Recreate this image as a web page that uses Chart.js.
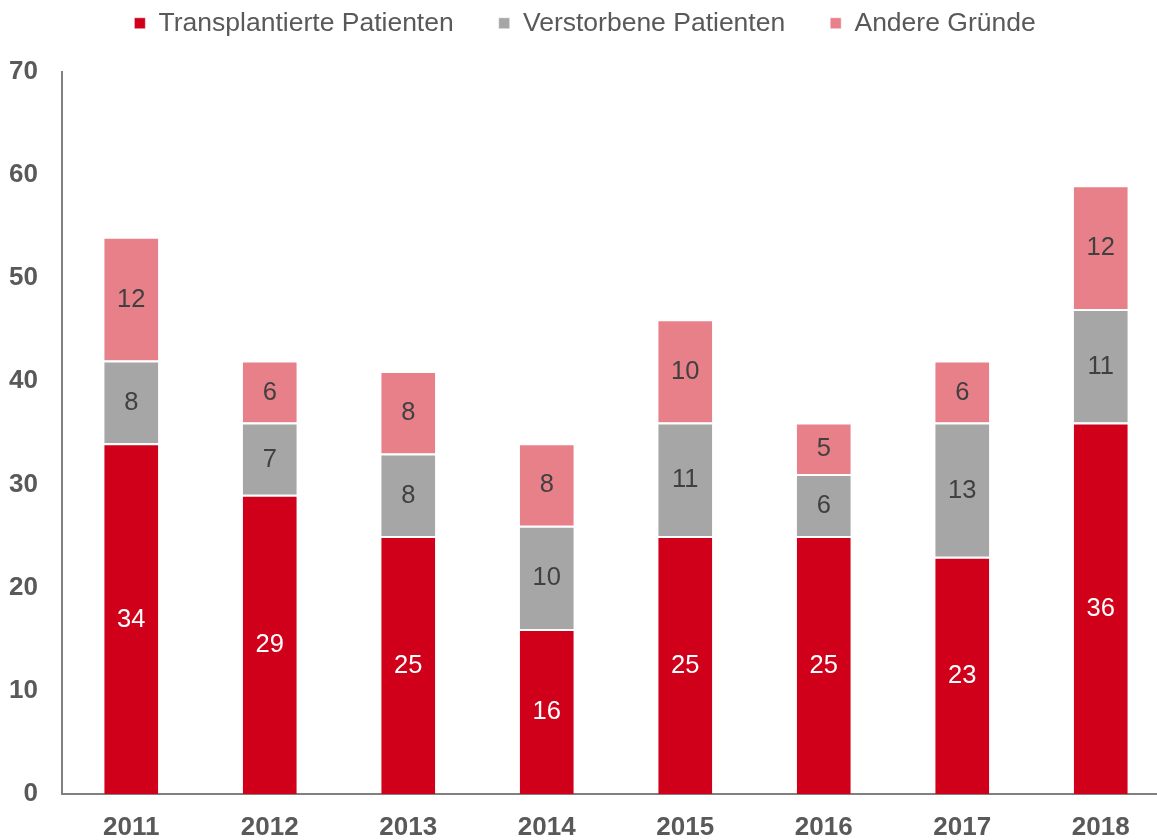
<!DOCTYPE html>
<html>
<head>
<meta charset="utf-8">
<script src="https://cdn.jsdelivr.net/npm/chart.js@4"></script>
<style>
  html, body { margin: 0; padding: 0; background: #fff; overflow: hidden; }
  #wrap { width: 1170px; height: 840px; }
</style>
</head>
<body>
<div id="wrap"><canvas id="plot" width="1170" height="840"></canvas></div>
<script>
const years = ["2011", "2012", "2013", "2014", "2015", "2016", "2017", "2018"];
const transplantiert = [34, 29, 25, 16, 25, 25, 23, 36];
const verstorben = [8, 7, 8, 10, 11, 6, 13, 11];
const andere = [12, 6, 8, 8, 10, 5, 6, 12];
const yTicks = [0, 10, 20, 30, 40, 50, 60, 70];

const fontFam = "'Liberation Sans', Arial, sans-serif";

// writes the segment values into the middle of each bar piece
const barLabels = {
    id: "barLabels",
    afterDatasetsDraw(chart) {
        const ctx = chart.ctx;
        ctx.save();
        ctx.font = "25.5px " + fontFam;
        ctx.textAlign = "center";
        ctx.textBaseline = "middle";
        chart.data.datasets.forEach((ds, i) => {
            chart.getDatasetMeta(i).data.forEach((bar, j) => {
                ctx.fillStyle = i === 0 ? "#ffffff" : "#404040";
                ctx.fillText(String(ds.data[j]), bar.x, (bar.y + bar.base) / 2 + 1);
            });
        });
        ctx.restore();
    }
};

new Chart(document.getElementById("plot"), {
    type: "bar",
    data: {
        labels: years,
        datasets: [
            {label: "Transplantierte Patienten", data: transplantiert, backgroundColor: "#D0001B"},
            {label: "Verstorbene Patienten", data: verstorben, backgroundColor: "#A6A6A6"},
            {label: "Andere Gründe", data: andere, backgroundColor: "#E8808A"}
        ].map(d => Object.assign(d, {
            borderColor: "#ffffff",
            borderWidth: {top: 2, left: 0, right: 0, bottom: 0},
            borderSkipped: false,
            categoryPercentage: 1,
            barPercentage: 0.39
        }))
    },
    options: {
        responsive: false,
        animation: false,
        layout: {padding: {left: 0, right: 0, top: -35, bottom: 0}},
        plugins: {
            legend: {
                position: "top",
                labels: {
                    boxWidth: 11,
                    boxHeight: 11,
                    padding: 45,
                    color: "#595959",
                    font: {family: fontFam, size: 26.5}
                }
            },
            // empty spacer between legend and plot
            title: {
                display: true,
                text: "",
                weight: 500,
                font: {size: 1},
                padding: {top: 0, bottom: 24}
            },
            tooltip: {enabled: false}
        },
        scales: {
            x: {
                stacked: true,
                afterFit: a => { a.height = 46; },
                grid: {display: false, drawTicks: false},
                border: {display: true, color: "#808080", width: 2},
                ticks: {color: "#595959", padding: 18, font: {family: fontFam, size: 26, weight: "bold"}}
            },
            y: {
                stacked: true,
                min: 0,
                max: 70,
                afterBuildTicks: axis => { axis.ticks = yTicks.map(v => ({value: v})); },
                afterFit: a => { a.width = 62; },
                grid: {display: false, drawTicks: false},
                border: {display: true, color: "#808080", width: 2},
                ticks: {color: "#595959", padding: 24, font: {family: fontFam, size: 26, weight: "bold"}}
            }
        }
    },
    plugins: [barLabels]
});
</script>
</body>
</html>
